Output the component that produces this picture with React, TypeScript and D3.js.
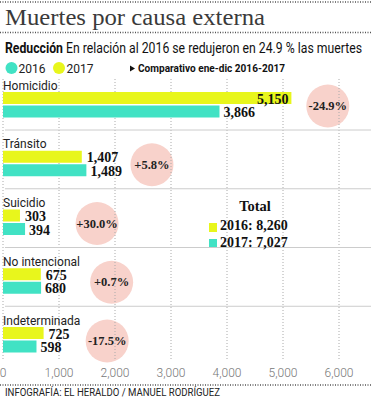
import React from "react";
import * as d3 from "d3";

const categories = ["Homicidio", "Tránsito", "Suicidio", "No intencional", "Indeterminada"];
const valuesTop = [5150, 1407, 303, 675, 725];
const valuesBottom = [3866, 1489, 394, 680, 598];
const changes = ["-24.9%", "+5.8%", "+30.0%", "+0.7%", "-17.5%"];
const changeAt = [5800, 2660, 1680, 1940, 1860];
const xTicks = [0, 1000, 2000, 3000, 4000, 5000, 6000];
const legendLabels = ["2016", "2017"];
const totalLabels = ["2016: 8,260", "2017: 7,027"];

const YELLOW = "#e8f61c";
const TEAL = "#41e2c4";
const PINK = "#f8d2cb";
const SERIF = "'Liberation Serif', 'DejaVu Serif', serif";
const SANS = "Roboto, 'Open Sans', sans-serif";

export default function App() {
  const W = 371, H = 400;
  const x = d3.scaleLinear().domain([0, 6000]).range([3, 339]);
  const rowL = (i: number) => 90 + i * 58.75;
  const fmt = d3.format(",");
  const sx = 0.85;

  return (
    <svg width={W} height={H} style={{ position: "absolute", left: 0, top: 0, background: "#fff" }}>
      {/* dotted rules */}
      {[2, 32.5, 385].map((y, i) => (
        <line key={i} x1={0} x2={W} y1={y} y2={y} stroke="#555" strokeWidth={1.3} strokeDasharray="1,1.5" />
      ))}
      <text x={5} y={25} fontFamily={SERIF} fontSize={23} fill="#3a3a3a" textLength={260} lengthAdjust="spacingAndGlyphs">
        Muertes por causa externa
      </text>
      <g transform={`scale(${sx},1)`}>
        <text x={5 / sx} y={53} fontFamily={SANS} fontWeight={700} fontSize={14} fill="#111" textLength={58 / sx} lengthAdjust="spacingAndGlyphs">
          Reducción
        </text>
        <text x={66 / sx} y={53} fontFamily={SANS} fontSize={14} fill="#111" textLength={296 / sx} lengthAdjust="spacingAndGlyphs">
          En relación al 2016 se redujeron en 24.9 % las muertes
        </text>
      </g>
      {/* legend */}
      <circle cx={11.5} cy={68} r={6} fill={TEAL} />
      <text x={18.5} y={73} fontFamily={SANS} fontSize={12} fill="#222">{legendLabels[0]}</text>
      <circle cx={59} cy={68} r={6} fill={YELLOW} />
      <text x={66.5} y={73} fontFamily={SANS} fontSize={12} fill="#222">{legendLabels[1]}</text>
      <path d="M130,65.5 L135,68.5 L130,71.5 Z" fill="#111" />
      <text x={138} y={72} fontFamily={SANS} fontWeight={700} fontSize={10} fill="#111" textLength={147} lengthAdjust="spacingAndGlyphs">
        Comparativo ene-dic 2016-2017
      </text>

      {/* circles */}
      {categories.map((c, i) => (
        <circle key={c} cx={x(changeAt[i])} cy={rowL(i) + 16} r={21.5} fill={PINK} />
      ))}

      {/* gridlines */}
      {xTicks.map((t) => (
        <line key={t} x1={x(t)} x2={x(t)} y1={79} y2={360} stroke="#aaa" strokeWidth={1} strokeDasharray="1,2" />
      ))}

      {/* separators */}
      {categories.slice(0, -1).map((c, i) => (
        <line key={c} x1={5} x2={W} y1={rowL(i) + 40} y2={rowL(i) + 40} stroke="#ccc" strokeWidth={1} />
      ))}

      {categories.map((c, i) => {
        const L = rowL(i);
        const top = valuesTop[i];
        const bot = valuesBottom[i];
        const inside = top > 4500;
        return (
          <g key={c}>
            <text x={3} y={L - 0.5} fontFamily={SANS} fontSize={12} fill="#222">{c}</text>
            <rect x={x(0)} y={L + 2} width={x(top) - x(0)} height={12} fill={YELLOW} />
            <rect x={x(0)} y={L + 15.5} width={x(bot) - x(0)} height={12} fill={TEAL} />
            <text
              x={inside ? x(top) - 3 : x(top) + 5}
              y={L + 13.5}
              textAnchor={inside ? "end" : "start"}
              fontFamily={SERIF}
              fontWeight={700}
              fontSize={14}
              fill="#111"
            >
              {fmt(top)}
            </text>
            <text x={x(bot) + 4} y={L + 27} fontFamily={SERIF} fontWeight={700} fontSize={14} fill="#111">
              {fmt(bot)}
            </text>
            <text x={x(changeAt[i])} y={rowL(i) + 20} textAnchor="middle" fontFamily={SERIF} fontWeight={700} fontSize={12.5} fill="#222">
              {changes[i]}
            </text>
          </g>
        );
      })}

      {/* totals */}
      <text x={255} y={211} textAnchor="middle" fontFamily={SERIF} fontWeight={700} fontSize={14.5} fill="#111">Total</text>
      <rect x={209} y={223} width={8} height={9} fill={YELLOW} />
      <text x={220} y={229.5} fontFamily={SERIF} fontWeight={700} fontSize={14} fill="#111">{totalLabels[0]}</text>
      <rect x={209} y={239} width={8} height={8} fill={TEAL} />
      <text x={220} y={247} fontFamily={SERIF} fontWeight={700} fontSize={14} fill="#111">{totalLabels[1]}</text>

      {/* axis labels */}
      {xTicks.map((t) => (
        <text key={t} x={x(t)} y={377} textAnchor="middle" fontFamily={SANS} fontWeight={300} fontSize={12} fill="#777">
          {fmt(t)}
        </text>
      ))}

      <text x={5} y={396} fontFamily={SANS} fontSize={11} fill="#222" textLength={215} lengthAdjust="spacingAndGlyphs">
        INFOGRAFÍA: EL HERALDO / MANUEL RODRÍGUEZ
      </text>
    </svg>
  );
}
